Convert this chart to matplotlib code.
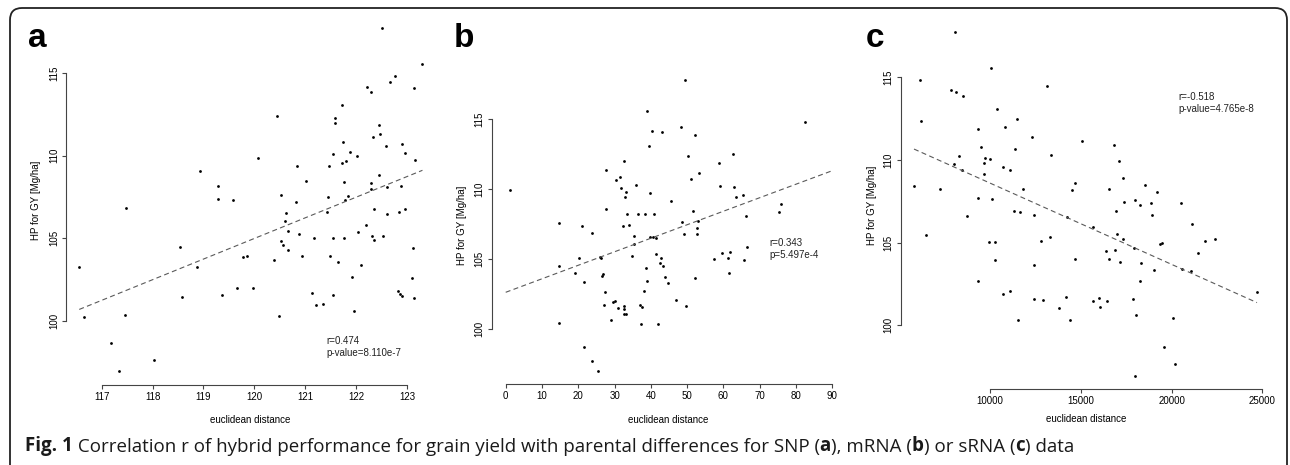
import numpy as np
import matplotlib
matplotlib.use("Agg")
import matplotlib.pyplot as plt
from matplotlib.patches import FancyBboxPatch
from matplotlib.text import Annotation
from matplotlib.transforms import IdentityTransform

plt.rcParams['font.family'] = ['Liberation Sans', 'DejaVu Sans']

# SNP (a)
snp_x = [122.50, 123.30, 122.77, 122.66, 123.13, 122.21, 122.28, 121.72, 120.44, 121.58,
         121.58, 122.45, 122.46, 122.33, 121.73, 122.90, 122.59, 122.96, 121.54, 121.88,
         122.01, 120.08, 121.79, 121.72, 120.84, 121.47, 123.16, 118.94, 122.45, 121.01,
         121.75, 122.29, 119.28, 122.61, 122.88, 122.29, 120.53, 121.83, 121.45, 121.77,
         119.28, 119.57, 120.82, 117.48, 122.34, 122.96, 122.84, 122.60, 121.42, 120.63,
         120.60, 122.19, 120.65, 120.87, 121.17, 121.55, 121.75, 122.03, 122.30, 122.34,
         122.52, 123.12, 120.52, 120.57, 120.66, 118.54, 120.94, 121.48, 119.77, 119.85,
         120.38, 116.56, 118.88, 121.65, 122.10, 121.92, 123.10, 122.81, 122.85, 122.89,
         123.14, 119.37, 119.66, 119.98, 118.57, 121.14, 121.54, 121.21, 121.35, 121.95,
         120.49, 116.66, 117.46, 117.19, 118.02, 117.35]
snp_y = [117.73, 115.53, 114.80, 114.46, 114.07, 114.15, 113.87, 113.04, 112.42, 112.30,
         111.95, 111.83, 111.33, 111.13, 110.84, 110.68, 110.56, 110.16, 110.07, 110.24,
         109.99, 109.85, 109.65, 109.53, 109.35, 109.35, 109.73, 109.05, 108.85, 108.48,
         108.38, 108.32, 108.16, 108.12, 108.16, 107.98, 107.61, 107.55, 107.49, 107.31,
         107.37, 107.31, 107.19, 106.82, 106.78, 106.76, 106.58, 106.46, 106.58, 106.50,
         106.06, 105.82, 105.43, 105.25, 105.03, 105.01, 105.01, 105.37, 105.13, 104.91,
         105.11, 104.38, 104.85, 104.58, 104.30, 104.46, 103.94, 103.92, 103.88, 103.90,
         103.67, 103.23, 103.27, 103.55, 103.37, 102.64, 102.58, 101.80, 101.64, 101.51,
         101.39, 101.55, 102.00, 101.96, 101.41, 101.68, 101.55, 100.97, 101.03, 100.59,
         100.26, 100.24, 100.36, 98.67, 97.64, 96.93]

# mRNA (b)
mrna_x = [49.32, 39.03, 82.58, 48.31, 40.40, 42.97, 52.25, 39.50, 62.73, 50.33,
          32.51, 58.87, 27.55, 53.39, 31.50, 30.49, 51.06, 35.81, 1.19, 31.78,
          59.14, 62.82, 33.24, 39.85, 65.30, 32.79, 63.55, 45.46, 75.78, 27.55,
          75.32, 51.52, 33.33, 36.55, 38.39, 40.96, 66.31, 14.60, 21.03, 32.23,
          34.07, 48.67, 52.90, 52.63, 23.87, 35.26, 35.45, 39.86, 40.50, 41.51,
          49.23, 52.72, 20.20, 25.98, 26.17, 14.69, 34.90, 41.32, 42.88, 42.51,
          43.43, 38.75, 19.19, 26.72, 26.63, 43.80, 52.25, 21.48, 39.03, 44.72,
          27.36, 38.11, 47.02, 30.03, 29.57, 27.00, 30.99, 32.60, 32.69, 32.60,
          33.05, 37.10, 37.65, 49.78, 28.92, 37.28, 42.05, 14.60, 21.48, 23.68,
          25.53, 57.40, 59.61, 61.17, 61.81, 66.50, 65.67, 61.54]
mrna_y = [117.76, 115.55, 114.81, 114.45, 114.17, 114.10, 113.88, 113.10, 112.48, 112.33,
          111.98, 111.88, 111.38, 111.17, 110.88, 110.62, 110.74, 110.31, 109.90, 110.05,
          110.21, 110.12, 109.76, 109.71, 109.57, 109.40, 109.40, 109.12, 108.90, 108.55,
          108.38, 108.45, 108.19, 108.21, 108.21, 108.21, 108.07, 107.55, 107.38, 107.38,
          107.43, 107.62, 107.69, 107.21, 106.88, 106.64, 106.07, 106.55, 106.60, 106.52,
          106.81, 106.81, 105.10, 105.12, 105.05, 104.52, 105.21, 105.33, 105.10, 104.69,
          104.48, 104.36, 104.02, 103.93, 103.81, 103.74, 103.62, 103.33, 103.43, 103.31,
          102.67, 102.71, 102.07, 102.02, 101.93, 101.69, 101.48, 101.62, 101.45, 101.05,
          101.10, 101.74, 101.57, 101.64, 100.67, 100.33, 100.33, 100.45, 98.74, 97.71,
          97.00, 104.98, 105.45, 105.07, 105.50, 105.86, 104.90, 103.98]

# sRNA (c)
srna_x = [8091, 10037, 6163, 7852, 8127, 8513, 13121, 10404, 6199, 11487,
          9339, 10826, 12295, 15049, 16848, 9504, 11359, 8311, 9725, 10000,
          13342, 8036, 9651, 17105, 8458, 10716, 11102, 9651, 17307, 5814,
          7228, 11836, 14517, 14663, 16573, 18537, 19180, 9339, 10110, 17381,
          17969, 18262, 18850, 20539, 16940, 11322, 11652, 18941, 8752, 12405,
          14223, 15692, 21108, 6457, 9927, 10257, 12809, 13305, 16977, 17326,
          17913, 19364, 19474, 21861, 22393, 21438, 16371, 16885, 10257, 14682,
          16573, 17160, 18317, 12405, 19051, 20575, 21053, 9321, 18262, 11083,
          10716, 24707, 12442, 12901, 14204, 15692, 15986, 16444, 16059, 17877,
          13819, 11524, 14388, 18060, 20098, 19566, 20190, 17987]
srna_y = [117.74, 115.56, 114.82, 114.22, 114.10, 113.90, 114.48, 113.10, 112.34, 112.48,
          111.90, 112.00, 111.40, 111.18, 110.90, 110.76, 110.64, 110.24, 110.14, 110.06,
          110.32, 109.74, 109.82, 109.92, 109.40, 109.60, 109.42, 109.14, 108.92, 108.40,
          108.24, 108.24, 108.20, 108.58, 108.24, 108.48, 108.08, 107.70, 107.64, 107.48,
          107.58, 107.30, 107.42, 107.42, 106.94, 106.90, 106.86, 106.68, 106.60, 106.68,
          106.54, 105.92, 106.14, 105.49, 105.06, 105.06, 105.10, 105.37, 105.53, 105.20,
          104.67, 104.94, 105.00, 105.12, 105.20, 104.37, 104.47, 104.53, 103.96, 104.02,
          104.00, 103.84, 103.74, 103.62, 103.33, 103.43, 103.29, 102.70, 102.66, 102.07,
          101.89, 102.01, 101.61, 101.55, 101.73, 101.46, 101.67, 101.48, 101.08, 101.61,
          101.02, 100.30, 100.33, 100.65, 100.43, 98.70, 97.64, 96.95]

panel_letters = ['a', 'b', 'c']
stats = ["r=0.474\np-value=8.110e-7", "r=0.343\np=5.497e-4", "r=-0.518\np-value=4.765e-8"]
xticks = [list(range(117, 124)), list(range(0, 91, 10)), [10000, 15000, 20000, 25000]]
yticks = [100, 105, 110, 115]

W, H = 1290, 465
fig = plt.figure(figsize=(W / 100, H / 100), dpi=100)

# outer rounded frame, running past the bottom edge
frame = FancyBboxPatch((10, -30), 1277, 487, boxstyle="round,pad=0,rounding_size=12",
                       transform=IdentityTransform(), fill=False, ec='#222222', lw=1.3)
fig.add_artist(frame)

# pixel layout of each panel
layouts = [
    dict(l=66, r=425, t=20, b=385, xlim=(116.30, 123.35), ylim=(96.106, 118.21),
         txt=(121.42, 99.07), ylab=(36, 200), xlab=(250, 420), let=(28, 38), span=None),
    dict(l=491.7, r=845, t=20, b=384, xlim=(-3.86, 93.5), ylim=(96.07, 122.07),
         txt=(72.6, 106.5), ylab=(462, 225), xlab=(668, 420), let=(454, 38), span=(0, 90)),
    dict(l=900.7, r=1275, t=20, b=389.3, xlim=(5081, 25700), ylim=(96.13, 118.47),
         txt=(20373, 114.11), ylab=(872, 205), xlab=(1086, 419), let=(866, 38), span=None),
]
data = [(snp_x, snp_y), (mrna_x, mrna_y), (srna_x, srna_y)]

axis_col = '#444444'
fs = 7
for i, (xs, ys) in enumerate(data):
    L = layouts[i]
    ax = fig.add_axes([L['l'] / W, (H - L['b']) / H, (L['r'] - L['l']) / W, (L['b'] - L['t']) / H])
    ax.set_xlim(*L['xlim'])
    ax.set_ylim(*L['ylim'])
    ax.patch.set_alpha(0)
    xs = np.array(xs)
    ys = np.array(ys)
    ax.plot(xs, ys, 'o', color='black', ms=2.0, mew=0)

    # least squares line
    k, d = np.polyfit(xs, ys, 1)
    if L['span'] is None:
        x0, x1 = xs.min(), xs.max()
    else:
        x0, x1 = L['span']
    lx = np.array([x0, x1])
    ax.plot(lx, k * lx + d, color='#5a5a5a', lw=0.8, dashes=(4.5, 3))

    ax.text(L['txt'][0], L['txt'][1], stats[i], fontsize=fs, ha='left', va='top',
            linespacing=1.2, color='#222222')

    for s in ['top', 'right']:
        ax.spines[s].set_visible(False)
    ax.spines['left'].set_bounds(yticks[0], yticks[-1])
    ax.spines['bottom'].set_bounds(xticks[i][0], xticks[i][-1])
    for s in ['left', 'bottom']:
        ax.spines[s].set_color(axis_col)
        ax.spines[s].set_linewidth(0.8)
    ax.set_xticks(xticks[i])
    ax.set_yticks(yticks)
    ax.tick_params(direction='out', length=3, width=0.8, color=axis_col,
                   labelsize=fs, pad=2)
    ax.tick_params(axis='y', labelrotation=90)
    for lab in ax.get_yticklabels():
        lab.set_va('center')

    fig.text(L['ylab'][0] / W, 1 - L['ylab'][1] / H, 'HP for GY [Mg/ha]',
             rotation=90, fontsize=fs, ha='center', va='center')
    fig.text(L['xlab'][0] / W, 1 - L['xlab'][1] / H, 'euclidean distance',
             fontsize=fs, ha='center', va='center')
    fig.text(L['let'][0] / W, 1 - L['let'][1] / H, panel_letters[i],
             fontsize=24, fontweight='bold', ha='left', va='center')

# caption with mixed weights, pieces chained one after another
pieces = [("Fig. 1", 'bold'),
          (" Correlation r of hybrid performance for grain yield with parental differences for SNP (", 'normal'),
          ("a", 'bold'), ("), mRNA (", 'normal'), ("b", 'bold'), (") or sRNA (", 'normal'),
          ("c", 'bold'), (") data", 'normal')]
cap_font = ['Open Sans', 'DejaVu Sans']
cap_size = 13.5
anchor = fig.text(25 / W, 1 - 446 / H, pieces[0][0], fontsize=cap_size, fontweight='bold',
                  family=cap_font, va='center', ha='left', color='#1a1a1a')
for txt, wt in pieces[1:]:
    anchor = fig.add_artist(Annotation(
        txt, xy=(1, 0), xycoords=anchor, va='bottom', ha='left', fontsize=cap_size,
        fontweight=wt, family=cap_font, color='#1a1a1a'))

fig.savefig('out.png', dpi=100)
